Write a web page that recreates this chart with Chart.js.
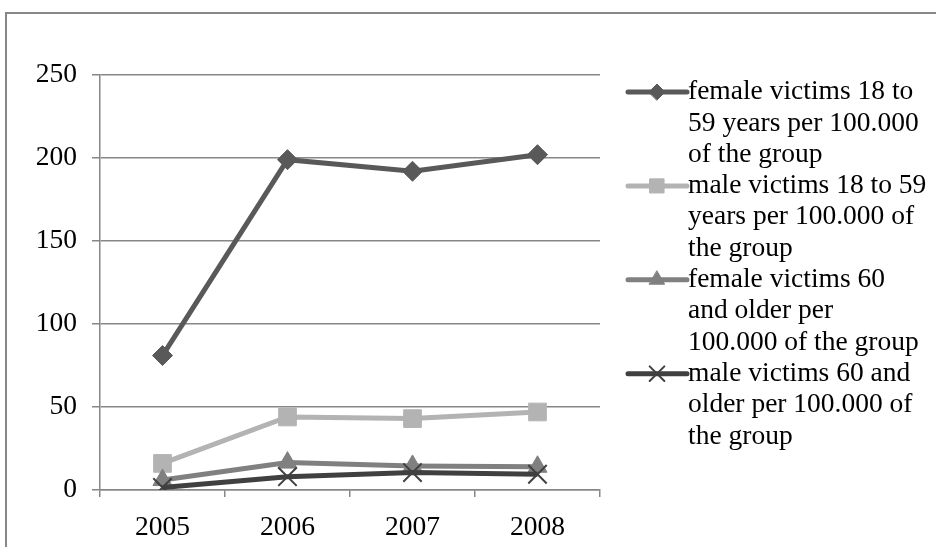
<!DOCTYPE html>
<html>
<head>
<meta charset="utf-8">
<script src="https://cdn.jsdelivr.net/npm/chart.js@4/dist/chart.umd.min.js"></script>
<style>
  html, body { margin: 0; padding: 0; background: #fff; }
  #wrap { width: 936px; height: 547px; position: relative; }
</style>
</head>
<body>
<div id="wrap"><canvas id="c" width="936" height="547"></canvas></div>
<script>
// Years on the category axis
const years = ['2005', '2006', '2007', '2008'];

// Victims per 100.000 of each group
const femaleVictims18to59 = [81, 199, 192, 202];
const maleVictims18to59 = [16, 44, 43, 47];
const femaleVictims60plus = [6, 16.5, 14.5, 14];
const maleVictims60plus = [1.5, 8, 10.5, 9.5];

// Series names, and the way they wrap in the legend
const seriesNames = [
  'female victims 18 to 59 years per 100.000 of the group',
  'male victims 18 to 59 years per 100.000 of the group',
  'female victims 60 and older per 100.000 of the group',
  'male victims 60 and older per 100.000 of the group'
];
const legendLines = [
  ['female victims 18 to', '59 years per 100.000', 'of the group'],
  ['male victims 18 to 59', 'years per 100.000 of', 'the group'],
  ['female victims 60', 'and older per', '100.000 of the group'],
  ['male victims 60 and', 'older per 100.000 of', 'the group']
];

// Value axis ticks
const yTicks = [0, 50, 100, 150, 200, 250];

const FONT = '"Liberation Serif", "Times New Roman", serif';
const FONT_SIZE = 27.5;

const styles = [
  { color: '#595959', point: 'rectRot', radius: 10 },
  { color: '#b3b3b3', point: 'rect', radius: 12.5 },
  { color: '#808080', point: 'triangle', radius: 11 },
  { color: '#404040', point: 'crossRot', radius: 13 }
];
const seriesData = [femaleVictims18to59, maleVictims18to59, femaleVictims60plus, maleVictims60plus];

const datasets = seriesData.map((d, i) => ({
  label: seriesNames[i],
  data: d,
  borderColor: styles[i].color,
  backgroundColor: styles[i].color,
  pointBackgroundColor: styles[i].color,
  pointBorderColor: styles[i].color,
  pointStyle: styles[i].point,
  pointRadius: styles[i].radius,
  pointHoverRadius: styles[i].radius,
  pointBorderWidth: i === 3 ? 2 : 1,
  borderWidth: 5,
  tension: 0,
  order: 3 - i
}));

// Outer frame around the whole chart
const framePlugin = {
  id: 'frame',
  beforeDraw(chart) {
    const ctx = chart.ctx;
    ctx.save();
    ctx.fillStyle = '#ffffff';
    ctx.fillRect(0, 0, chart.width, chart.height);
    ctx.strokeStyle = '#878787';
    ctx.lineWidth = 2;
    ctx.strokeRect(6, 13, chart.width + 20, chart.height + 20);
    ctx.restore();
  }
};

// Legend on the right: line sample with marker, then wrapped text
const sideLegend = {
  id: 'sideLegend',
  afterDraw(chart) {
    const ctx = chart.ctx;
    const lineH = 31.3;
    const x0 = 628, x1 = 687, xm = 657;
    let y = 92;
    ctx.save();
    legendLines.forEach((lines, i) => {
      const st = styles[i];
      ctx.strokeStyle = st.color;
      ctx.lineWidth = 5;
      ctx.lineCap = 'round';
      ctx.beginPath();
      ctx.moveTo(x0, y);
      ctx.lineTo(x1, y);
      ctx.stroke();
      ctx.fillStyle = st.color;
      ctx.lineWidth = i === 3 ? 2 : 1;
      Chart.helpers.drawPoint(ctx, {
        pointStyle: st.point,
        radius: st.radius * 0.8,
        borderWidth: i === 3 ? 2 : 1
      }, xm, y);
      ctx.fillStyle = '#000000';
      ctx.font = FONT_SIZE + 'px ' + FONT;
      ctx.textBaseline = 'middle';
      ctx.textAlign = 'left';
      lines.forEach((t, k) => ctx.fillText(t, x1 + 1, y + k * lineH));
      y += lines.length * lineH;
    });
    ctx.restore();
  }
};

new Chart(document.getElementById('c'), {
  type: 'line',
  data: { labels: years, datasets },
  options: {
    responsive: false,
    animation: false,
    events: [],
    layout: { padding: { top: 75, right: 336, left: 0, bottom: 0 } },
    plugins: { legend: { display: false }, tooltip: { enabled: false } },
    scales: {
      x: {
        offset: true,
        afterFit(s) { s.height = 57; },
        grid: {
          offset: true,
          drawOnChartArea: false,
          drawTicks: true,
          tickLength: 7,
          color: '#878787',
          lineWidth: 1.5
        },
        border: { color: '#878787', width: 1.5 },
        ticks: {
          color: '#000',
          font: { family: FONT, size: FONT_SIZE },
          padding: 14,
          maxRotation: 0
        }
      },
      y: {
        min: 0,
        max: 250,
        afterFit(s) { s.width = 100; },
        afterBuildTicks(s) { s.ticks = yTicks.map(v => ({ value: v })); },
        grid: {
          color: '#878787',
          lineWidth: 1.5,
          tickLength: 8
        },
        border: { color: '#878787', width: 1.5 },
        ticks: {
          color: '#000',
          font: { family: FONT, size: FONT_SIZE },
          padding: 15
        }
      }
    }
  },
  plugins: [framePlugin, sideLegend]
});
</script>
</body>
</html>
